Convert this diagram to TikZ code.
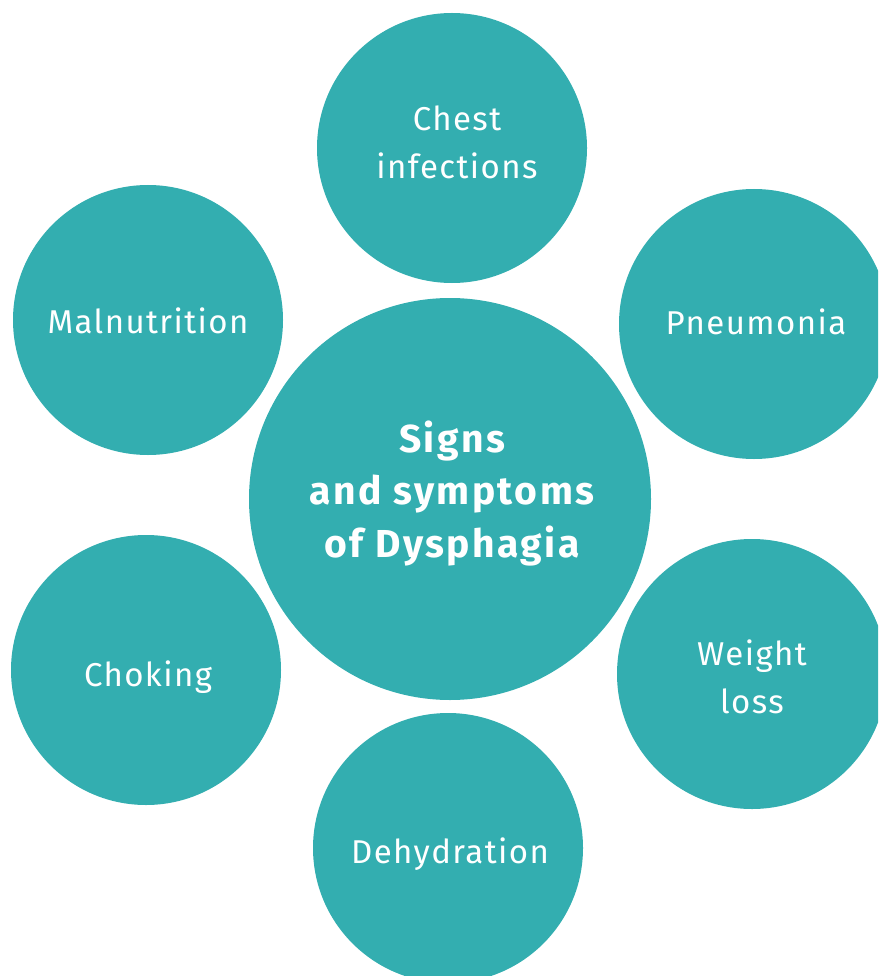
\documentclass[tikz,border=0pt]{standalone}
\usepackage{fontspec}
\setmainfont[Ligatures=NoCommon]{Fira Sans}
\newfontfamily\lblfont[Ligatures=NoCommon,LetterSpace=4.3]{Fira Sans}
\newfontfamily\hubfont[Ligatures=NoCommon,LetterSpace=6.3]{Fira Sans Bold}
\definecolor{teal}{HTML}{33AEB0}
\begin{document}
\begin{tikzpicture}[x=1pt,y=-1pt,
  bubble/.style={circle,fill=teal,draw=none,minimum size=270pt,inner sep=0pt},
  hub/.style={circle,fill=teal,draw=none,minimum size=402pt,inner sep=0pt},
  lbl/.style={text=white,align=center,inner sep=0pt,anchor=base,font=\lblfont\fontsize{33}{48}\selectfont},
  hubtxt/.style={text=white,align=center,inner sep=0pt,anchor=base,font=\hubfont\fontsize{39}{52.5}\selectfont}]
\useasboundingbox (0,0) rectangle (878,976);
\clip (0,0) rectangle (878,976);
\node[hub] (c) at (450,499) {};
\node[bubble] (chest) at (452,148) {};
\node[bubble] (mal) at (148,320) {};
\node[bubble] (pn) at (754,324) {};
\node[bubble] (ch) at (146,670) {};
\node[bubble] (wl) at (752,674) {};
\node[bubble] (de) at (448,848) {};
\node[hubtxt] (ct) at (452,557) {Signs\\and symptoms\\of Dysphagia};
\node[lbl] (chestt) at (457,179) {Chest\\infections};
\node[lbl] (malt) at (148,333) {Malnutrition};
\node[lbl] (pnt) at (756,334) {Pneumonia};
\node[lbl] (cht) at (148,686) {Choking};
\node[lbl] (wlt) at (752,713) {Weight\\loss};
\node[lbl] (det) at (450,863) {Dehydration};
\end{tikzpicture}
\end{document}
